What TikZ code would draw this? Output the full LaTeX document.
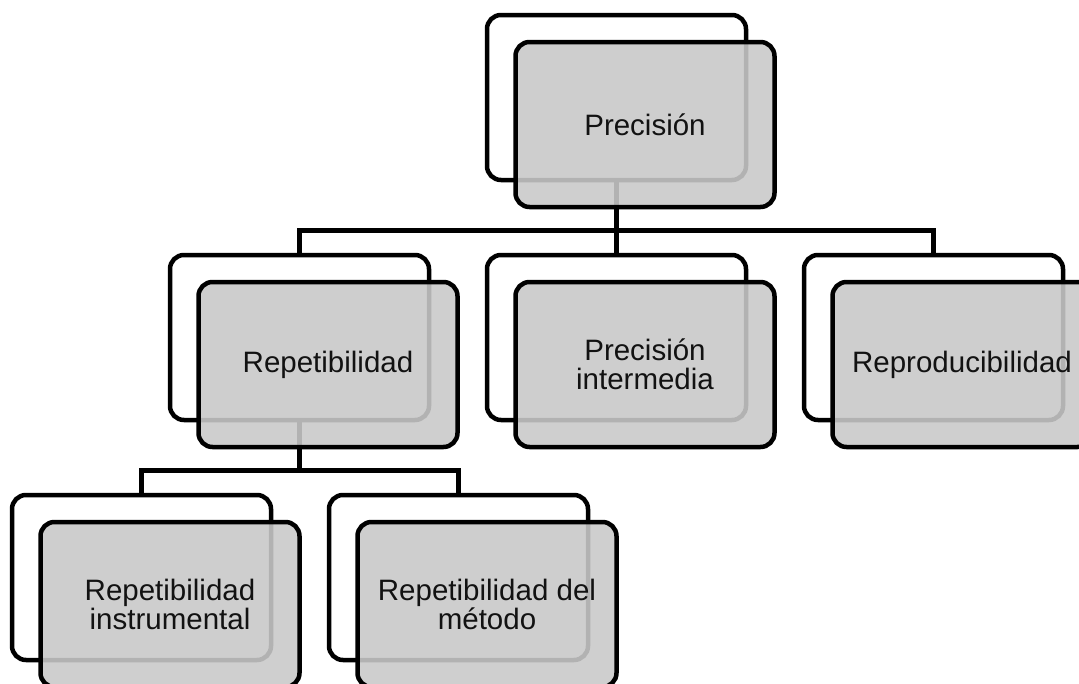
\documentclass[tikz,border=0pt]{standalone}
\usepackage{fontspec}
\setmainfont{Liberation Sans}
\begin{document}
\begin{tikzpicture}[x=1pt, y=-1pt,
  link/.style={draw=black, line width=4.5pt},
  backbox/.style={draw=black, line width=4.5pt, fill=white, rounded corners=14pt,
    minimum width=259pt, minimum height=165pt, inner sep=0pt},
  frontbox/.style={backbox, fill=black!21, fill opacity=0.89, text opacity=1,
    xshift=28.5pt, yshift=-27pt, align=center, text=black!93,
    font=\fontsize{29.5pt}{29.5pt}\selectfont}]
\useasboundingbox (0,0) rectangle (1079,683);
\clip (0,0) rectangle (1079,683);

% back boxes
\node[backbox] (P)  at (616.5, 97.5) {};
\node[backbox] (R)  at (299.5,337.5) {};
\node[backbox] (PI) at (616.5,337.5) {};
\node[backbox] (Rp) at (933.5,337.5) {};
\node[backbox] (RI) at (141.5,577.5) {};
\node[backbox] (RM) at (458.5,577.5) {};

% connectors
\coordinate (b1) at (616.5,230.5);
\coordinate (b2) at (299.5,470.5);
\draw[link] (P.south) -- (b1);
\draw[link] (R.north) |- (b1) -| (Rp.north);
\draw[link] (b1) -- (PI.north);
\draw[link] (R.south) -- (b2);
\draw[link] (RI.north) |- (b2) -| (RM.north);

% front boxes with the labels
\node[frontbox] (Pf)  at (P)  {Precisión};
\node[frontbox] (Rf)  at (R)  {Repetibilidad};
\node[frontbox] (PIf) at (PI) {Precisión\\intermedia};
\node[frontbox] (Rpf) at (Rp) {Reproducibilidad};
\node[frontbox] (RIf) at (RI) {Repetibilidad\\instrumental};
\node[frontbox] (RMf) at (RM) {Repetibilidad del\\método};
\end{tikzpicture}
\end{document}
